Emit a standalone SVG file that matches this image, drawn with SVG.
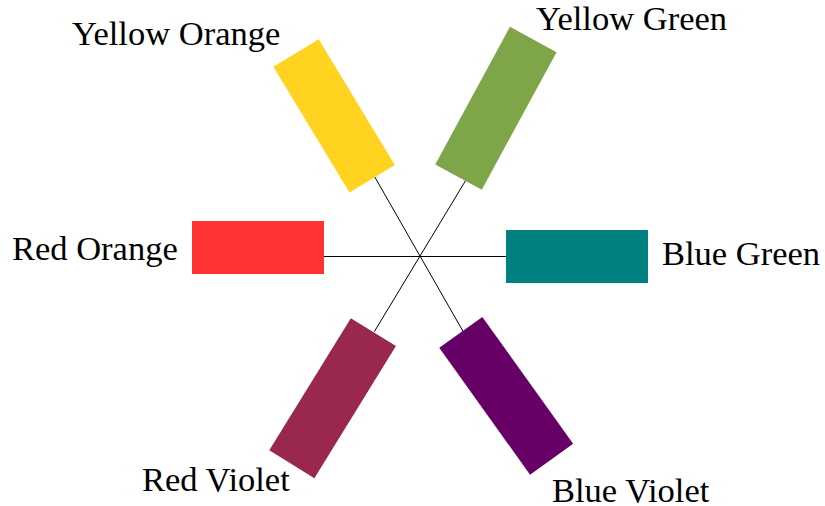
<svg xmlns="http://www.w3.org/2000/svg" width="825" height="506" viewBox="0 0 825 506">
<style>
text{font-family:"Liberation Serif","Times New Roman",serif;font-size:34.5px;fill:#000}
.ln{stroke:#000;stroke-width:1;fill:none}
</style>
<rect width="825" height="506" fill="#fff"/>
<g id="connectors">
<line class="ln" x1="324" y1="256.5" x2="506" y2="256.5"/>
<line class="ln" x1="372.7" y1="173.3" x2="469.3" y2="342.3"/>
<line class="ln" x1="470" y1="173.3" x2="374.3" y2="331.7"/>
</g>
<g id="yellow-orange">
<rect x="-73.5" y="-26.5" width="147" height="53" fill="#ffd320" transform="translate(334.1 115.9) rotate(58.8)"/>
<text x="72" y="45">Yellow Orange</text>
</g>
<g id="yellow-green">
<rect x="-78.3" y="-26.5" width="156.6" height="53" fill="#7ea648" transform="translate(495.9 108.3) rotate(118.5)"/>
<text x="536" y="29.5">Yellow Green</text>
</g>
<g id="red-orange">
<rect x="192" y="221" width="132" height="53" fill="#ff3333"/>
<text x="12" y="260">Red Orange</text>
</g>
<g id="blue-green">
<rect x="506" y="230" width="142" height="53" fill="#008080"/>
<text x="662" y="265">Blue Green</text>
</g>
<g id="red-violet">
<rect x="-77.6" y="-26.5" width="155.2" height="53" fill="#99284c" transform="translate(332.6 398.2) rotate(121.7)"/>
<text x="142" y="491">Red Violet</text>
</g>
<g id="blue-violet">
<rect x="-78" y="-26.5" width="156" height="53" fill="#660066" transform="translate(506.2 395.8) rotate(54.4)"/>
<text x="552" y="502">Blue Violet</text>
</g>
</svg>
